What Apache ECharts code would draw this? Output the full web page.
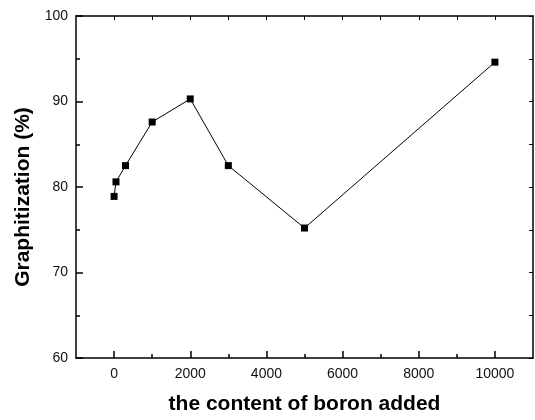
<!DOCTYPE html>
<html>
<head>
<meta charset="utf-8">
<script src="https://cdn.jsdelivr.net/npm/echarts@6/dist/echarts.min.js"></script>
<style>
html,body{margin:0;padding:0;background:#fff;}
#chart{width:535px;height:420px;}
</style>
</head>
<body>
<div id="chart"></div>
<script>
const boronContent = [0, 50, 300, 1000, 2000, 3000, 5000, 10000];
const graphitization = [78.9, 80.6, 82.5, 87.6, 90.3, 82.5, 75.2, 94.6];
const xMajorTicks = [0, 2000, 4000, 6000, 8000, 10000];
const xMinorTicks = [1000, 3000, 5000, 7000, 9000];
const xTopTicks = [0, 1000, 2000, 3000, 4000, 5000, 6000, 7000, 8000, 9000, 10000];
const xTitle = 'the content of boron added';
const yTitle = 'Graphitization (%)';

const chart = echarts.init(document.getElementById('chart'), null, {renderer: 'canvas'});
const font = '"Liberation Sans", Arial, sans-serif';
const axisLine = {show: true, onZero: false, lineStyle: {color: '#000', width: 1.5}};
const xRange = {min: -1000, max: 11000};

chart.setOption({
  animation: false,
  backgroundColor: '#fff',
  grid: {left: 76, right: 2, top: 16, bottom: 57, containLabel: false},
  xAxis: [
    {
      type: 'value', position: 'bottom', gridIndex: 0, ...xRange,
      axisLine: axisLine,
      axisTick: {show: true, inside: true, length: 7, customValues: xMajorTicks, lineStyle: {color: '#000', width: 1.5}},
      axisLabel: {show: true, customValues: xMajorTicks, color: '#111', fontSize: 14, fontFamily: font, margin: 9, formatter: v => String(v)},
      splitLine: {show: false},
      name: xTitle, nameLocation: 'middle', nameGap: 36,
      nameTextStyle: {color: '#000', fontSize: 21, fontWeight: 'bold', fontFamily: font}
    },
    {
      type: 'value', position: 'bottom', gridIndex: 0, ...xRange,
      axisLine: {show: false, onZero: false},
      axisTick: {show: true, inside: true, length: 4, customValues: xMinorTicks, lineStyle: {color: '#000', width: 1.5}},
      axisLabel: {show: false},
      splitLine: {show: false}
    },
    {
      type: 'value', position: 'top', gridIndex: 0, ...xRange,
      axisLine: axisLine,
      axisTick: {show: true, inside: true, length: 4, customValues: xTopTicks, lineStyle: {color: '#000', width: 1}},
      axisLabel: {show: false},
      splitLine: {show: false}
    }
  ],
  yAxis: [
    {
      type: 'value', position: 'left', min: 60, max: 100, interval: 10,
      axisLine: axisLine,
      axisTick: {show: true, inside: true, length: 7, lineStyle: {color: '#000', width: 1.5}},
      minorTick: {show: true, splitNumber: 2, length: 4, lineStyle: {color: '#000', width: 1.5}},
      axisLabel: {show: true, color: '#111', fontSize: 14, fontFamily: font, margin: 8},
      splitLine: {show: false}, minorSplitLine: {show: false},
      name: yTitle, nameLocation: 'middle', nameGap: 41, nameRotate: 90,
      nameTextStyle: {color: '#000', fontSize: 21, fontWeight: 'bold', fontFamily: font, padding: [0, 0, 0, -20]}
    },
    {
      type: 'value', position: 'right', min: 60, max: 100, interval: 5,
      axisLine: axisLine,
      axisTick: {show: true, inside: true, length: 4, lineStyle: {color: '#000', width: 1}},
      axisLabel: {show: false},
      splitLine: {show: false}
    }
  ],
  series: [{
    type: 'line',
    xAxisIndex: 0, yAxisIndex: 0,
    data: boronContent.map((x, i) => [x, graphitization[i]]),
    symbol: 'rect', symbolSize: 7,
    itemStyle: {color: '#000'},
    lineStyle: {color: '#000', width: 1},
    silent: true
  }]
});
</script>
</body>
</html>
